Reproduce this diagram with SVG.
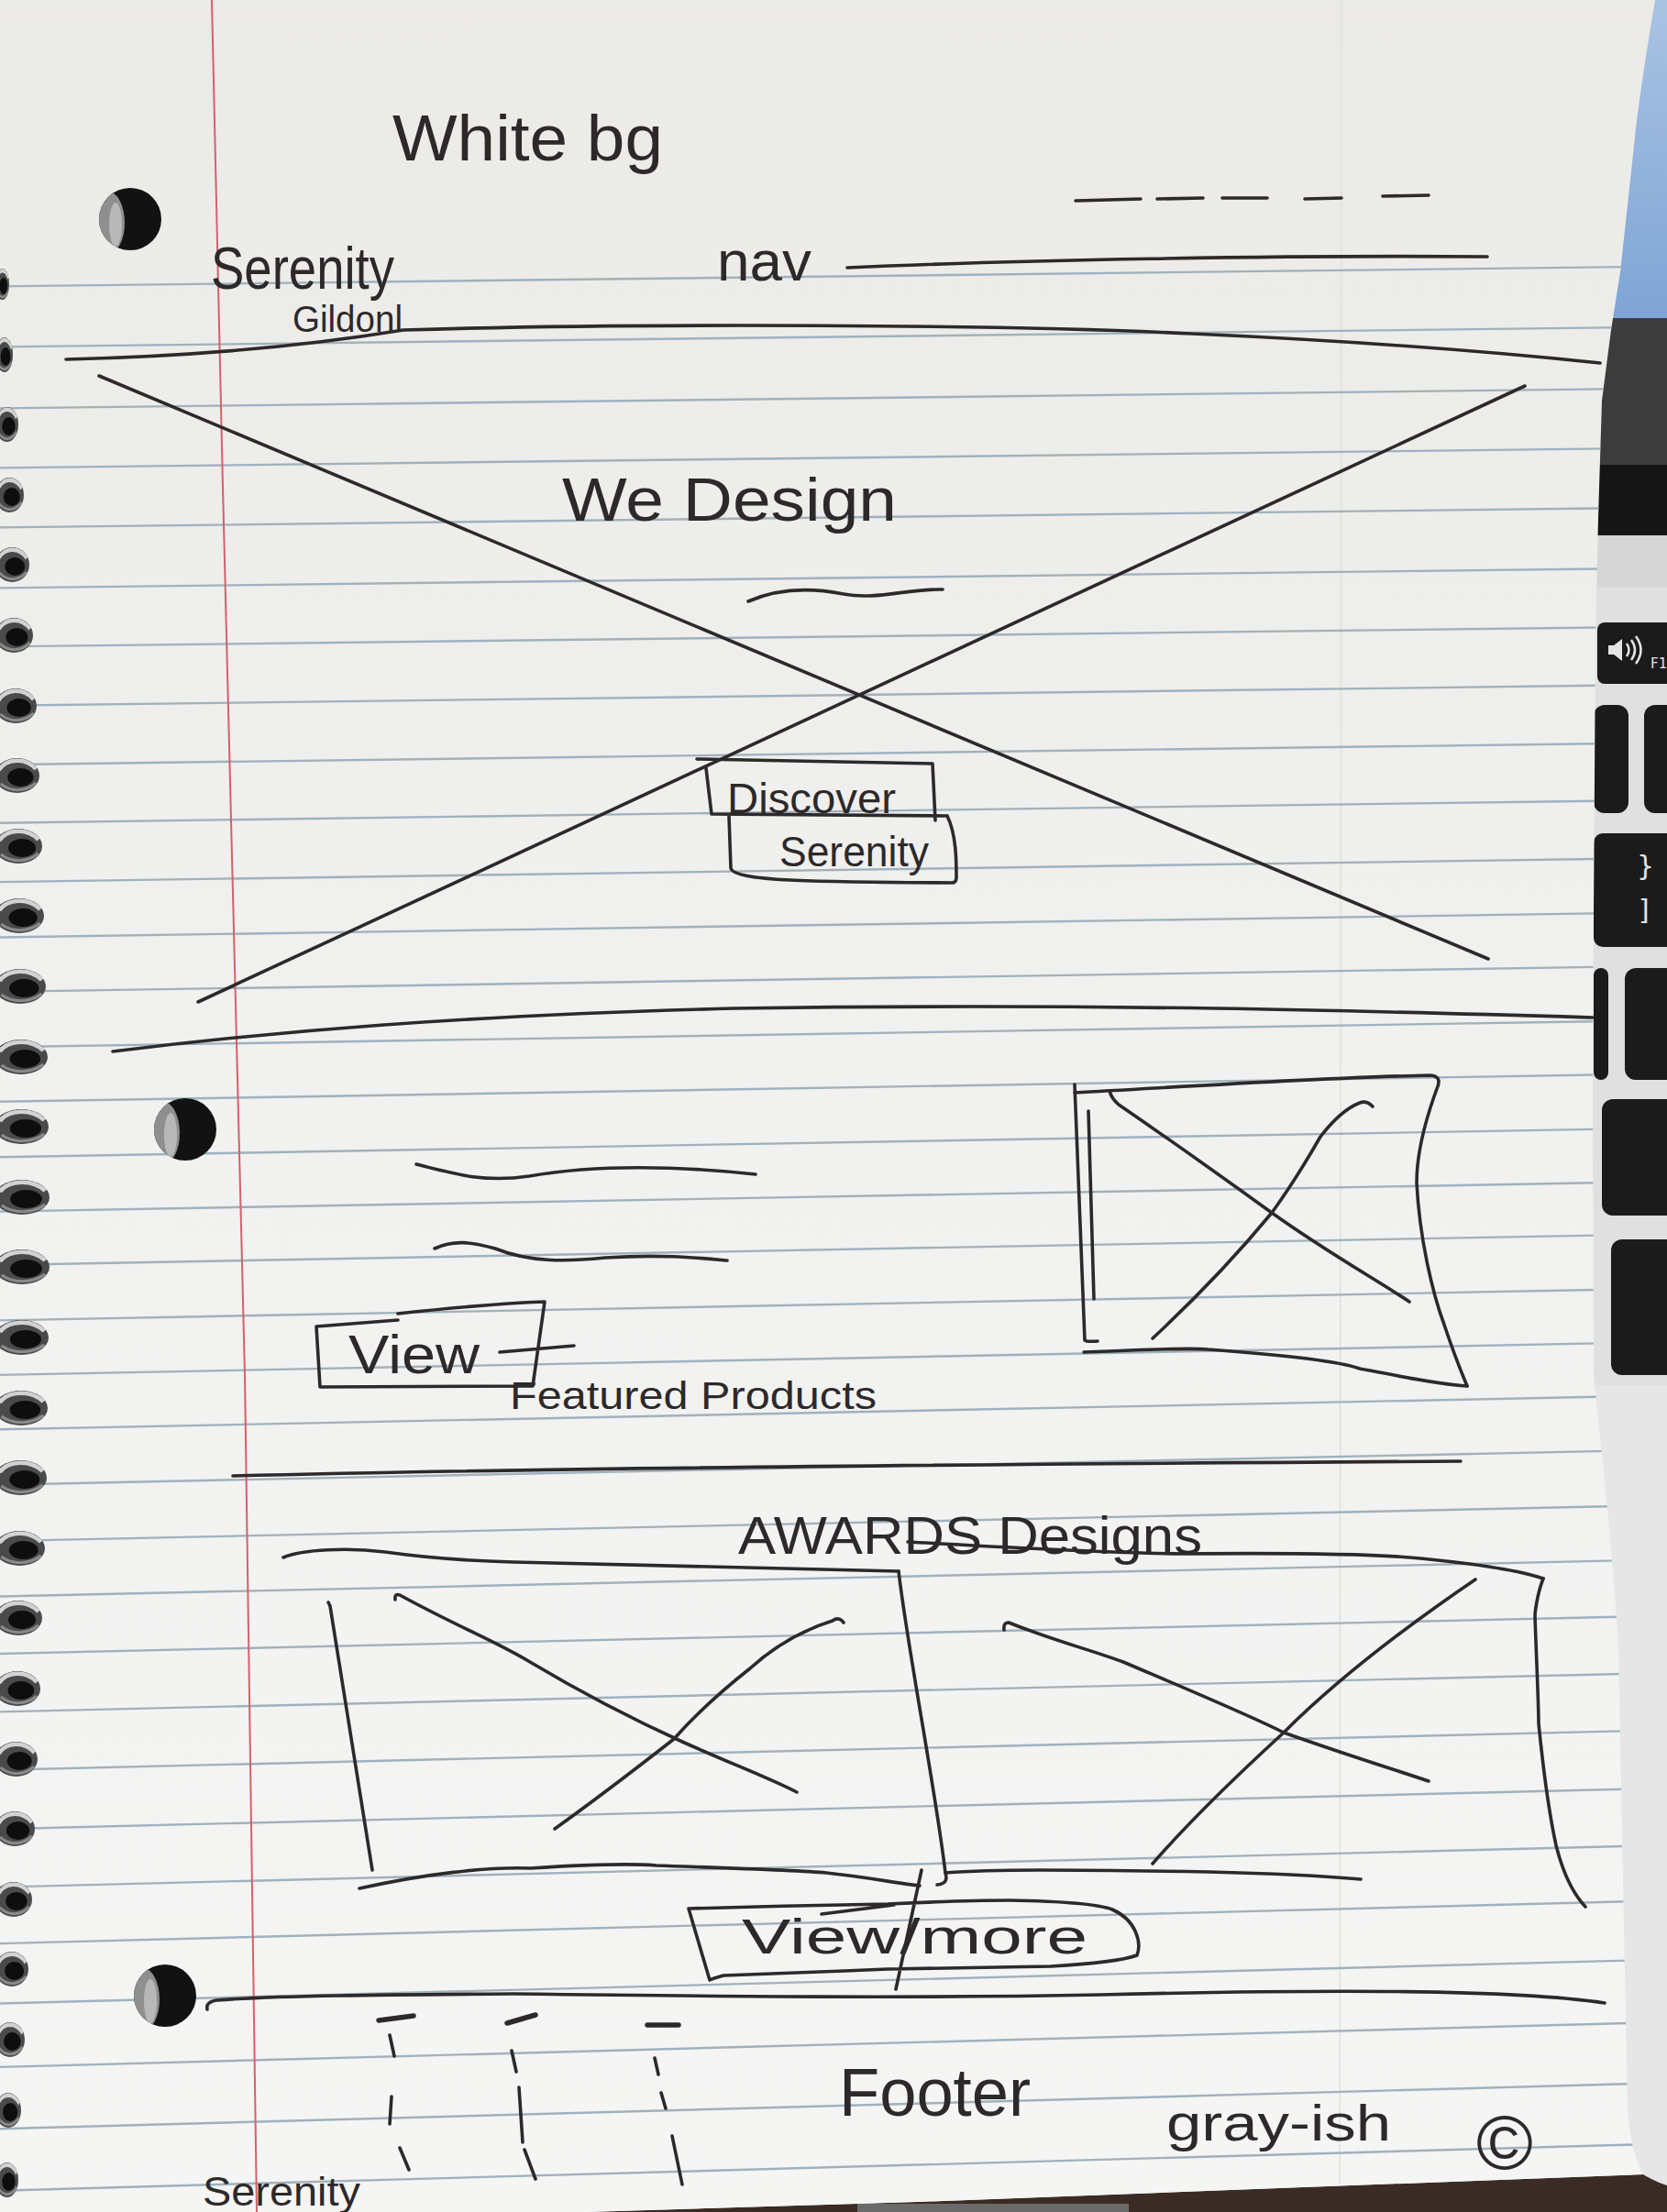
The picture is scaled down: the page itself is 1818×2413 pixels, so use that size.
<svg xmlns="http://www.w3.org/2000/svg" xmlns:xlink="http://www.w3.org/1999/xlink" width="1818" height="2413" viewBox="0 0 1818 2413">
  <style>
    .ink { fill: none; stroke: #2d292a; stroke-width: 3.6; stroke-linecap: round; stroke-linejoin: round; }
    .bold { stroke-width: 5.5; }
    .rule { stroke: #9fb1bd; stroke-width: 2.4; fill: none; }
    .hand { font-family: "Liberation Sans", Arial, sans-serif; fill: #2d292a; }
    .key { fill: #1b1b1b; }
    .legend { font-family: "DejaVu Sans", "Liberation Sans", sans-serif; fill: #e4e4e4; }
  </style>
  <defs>
    <linearGradient id="paperShade" x1="0" y1="0" x2="0" y2="1">
      <stop offset="0" stop-color="#ebeae7"/>
      <stop offset="0.5" stop-color="#f1f1ef"/>
      <stop offset="1" stop-color="#f5f5f4"/>
    </linearGradient>
    <linearGradient id="sky" x1="0" y1="0" x2="0" y2="1">
      <stop offset="0" stop-color="#a9c3e3"/>
      <stop offset="1" stop-color="#7fa5d5"/>
    </linearGradient>
    <clipPath id="paperClip">
      <path d="M0,0 L1805,0 C1795,60 1786,120 1783,150 L1767,297 L1757,360 L1747,437 L1743,565 L1740,700 L1737,1150 L1738,1500 C1748,1600 1760,1700 1765,1800 L1775,2300 C1778,2340 1785,2360 1792,2372 L1000,2402 L640,2413 L0,2413 Z"/>
    </clipPath>
    <clipPath id="holeClip">
      <circle cx="0" cy="0" r="34"/>
    </clipPath>
    <!-- punched binder hole -->
    <g id="hole">
      <circle cx="0" cy="0" r="34" fill="#121212"/>
      <g clip-path="url(#holeClip)">
        <ellipse cx="-24" cy="4" rx="18" ry="34" fill="#8f8f8f"/>
        <ellipse cx="-16" cy="6" rx="7" ry="24" fill="#d4d4d4" opacity="0.6"/>
      </g>
    </g>
    <!-- one loop of the spiral wire, unit width 50 -->
    <g id="coil">
      <ellipse cx="24" cy="0" rx="26" ry="19" fill="#4a4a4a"/>
      <ellipse cx="28" cy="2" rx="15" ry="10" fill="#0e0e0e"/>
      <path d="M3,-6 C12,-19 34,-20 46,-7" stroke="#d2d2d2" stroke-width="4.5" fill="none"/>
      <path d="M5,9 C16,18 34,18 46,8" stroke="#8a8a8a" stroke-width="3" fill="none"/>
    </g>
  </defs>

  <!-- laptop behind the notebook -->
  <g id="laptop">
    <rect x="0" y="0" width="1818" height="2413" fill="#e6e6e6"/>
    <rect x="1700" y="0" width="118" height="347" fill="url(#sky)"/>
    <rect x="1700" y="347" width="118" height="160" fill="#3c3c3c"/>
    <rect x="1700" y="507" width="118" height="77" fill="#151515"/>
    <rect x="1700" y="584" width="118" height="57" fill="#d6d6d6"/>
    <rect x="1700" y="641" width="118" height="870" fill="#e0e0e0"/>
    <rect class="key" x="1742" y="679" width="110" height="67" rx="8"/>
    <path d="M1754,704 h6 l9,-7 v24 l-9,-7 h-6 z" fill="#e4e4e4"/>
    <path d="M1774,702 q5,7 0,14 M1779,698 q8,11 0,22 M1784,694 q11,15 0,30" stroke="#e4e4e4" stroke-width="2.5" fill="none"/>
    <text class="legend" x="1800" y="729" font-size="15">F1</text>
    <rect class="key" x="1738" y="769" width="38" height="118" rx="12"/>
    <rect class="key" x="1793" y="769" width="60" height="118" rx="12"/>
    <rect class="key" x="1738" y="909" width="110" height="124" rx="10"/>
    <text class="legend" x="1785" y="955" font-size="30">}</text>
    <text class="legend" x="1787" y="1003" font-size="30">]</text>
    <rect class="key" x="1738" y="1056" width="16" height="122" rx="8"/>
    <rect class="key" x="1772" y="1056" width="80" height="122" rx="12"/>
    <rect class="key" x="1747" y="1199" width="100" height="127" rx="12"/>
    <rect class="key" x="1757" y="1352" width="90" height="148" rx="12"/>
    <path d="M640,2413 L1000,2402 L1792,2372 C1805,2380 1818,2384 1818,2384 L1818,2413 Z" fill="#3a2c24"/>
    <rect x="935" y="2404" width="296" height="9" fill="#6a6a6a"/>
  </g>

  <!-- the notebook page -->
  <g id="page">
    <path d="M0,0 L1805,0 C1795,60 1786,120 1783,150 L1767,297 L1757,360 L1747,437 L1743,565 L1740,700 L1737,1150 L1738,1500 C1748,1600 1760,1700 1765,1800 L1775,2300 C1778,2340 1785,2360 1792,2372 L1000,2402 L640,2413 L0,2413 Z" fill="url(#paperShade)"/>
    <g clip-path="url(#paperClip)">
      <path d="M1463,0 L1461,2410" stroke="#dcdcd9" stroke-width="2" opacity="0.6"/>
      <g id="rules" class="rule">
        <path d="M0,312.4 L1818,290.6"/>
        <path d="M0,378.4 L1818,356.6"/>
        <path d="M0,445.4 L1818,423.6"/>
        <path d="M0,510.4 L1818,488.6"/>
        <path d="M0,575.4 L1818,553.6"/>
        <path d="M0,641.4 L1818,619.6"/>
        <path d="M0,705.4 L1818,683.6"/>
        <path d="M0,769.8 L1818,746.9"/>
        <path d="M0,834.2 L1818,810.2"/>
        <path d="M0,897.7 L1818,872.6"/>
        <path d="M0,962.1 L1818,935.9"/>
        <path d="M0,1022.5 L1818,995.2"/>
        <path d="M0,1081.9 L1818,1053.6"/>
        <path d="M0,1142.3 L1818,1112.9"/>
        <path d="M0,1201.8 L1818,1171.2"/>
        <path d="M0,1262.2 L1818,1230.5"/>
        <path d="M0,1321.6 L1818,1288.9"/>
        <path d="M0,1380 L1818,1346.2"/>
        <path d="M0,1440.4 L1818,1405.5"/>
        <path d="M0,1499.9 L1818,1463.9"/>
        <path d="M0,1559.3 L1818,1522.2"/>
        <path d="M0,1619.7 L1818,1581.5"/>
        <path d="M0,1681.1 L1818,1641.9"/>
        <path d="M0,1741.5 L1818,1701.2"/>
        <path d="M0,1804 L1818,1762.5"/>
        <path d="M0,1867.4 L1818,1824.8"/>
        <path d="M0,1930.8 L1818,1887.2"/>
        <path d="M0,1995.2 L1818,1950.5"/>
        <path d="M0,2058.6 L1818,2012.8"/>
        <path d="M0,2120.1 L1818,2073.2"/>
        <path d="M0,2185.5 L1818,2137.5"/>
        <path d="M0,2254.9 L1818,2205.8"/>
        <path d="M0,2322.3 L1818,2272.1"/>
        <path d="M0,2389.7 L1818,2338.5"/>
      </g>
      <path id="margin" d="M231,0 C240,500 260,1100 267,1500 C272,1850 277,2150 280,2413" stroke="#d4606e" stroke-width="2" fill="none"/>
    </g>
    <use href="#hole" x="142" y="239"/>
    <use href="#hole" x="202" y="1232"/>
    <use href="#hole" x="180" y="2177"/>
  </g>

  <!-- spiral binding -->
  <g id="spiral">
    <use href="#coil" transform="translate(-4,310) scale(0.28,0.9)"/>
    <use href="#coil" transform="translate(-4,387) scale(0.36,1)"/>
    <use href="#coil" transform="translate(-4,463) scale(0.48,1)"/>
    <use href="#coil" transform="translate(-4,540) scale(0.6,1)"/>
    <use href="#coil" transform="translate(-4,616) scale(0.72,1)"/>
    <use href="#coil" transform="translate(-4,693) scale(0.8,1)"/>
    <use href="#coil" transform="translate(-4,770) scale(0.88,1)"/>
    <use href="#coil" transform="translate(-4,846) scale(0.94,1)"/>
    <use href="#coil" transform="translate(-4,923) scale(1,1)"/>
    <use href="#coil" transform="translate(-4,999) scale(1.04,1)"/>
    <use href="#coil" transform="translate(-4,1076) scale(1.08,1)"/>
    <use href="#coil" transform="translate(-4,1153) scale(1.12,1)"/>
    <use href="#coil" transform="translate(-4,1229) scale(1.14,1)"/>
    <use href="#coil" transform="translate(-4,1306) scale(1.16,1)"/>
    <use href="#coil" transform="translate(-4,1382) scale(1.16,1)"/>
    <use href="#coil" transform="translate(-4,1459) scale(1.14,1)"/>
    <use href="#coil" transform="translate(-4,1536) scale(1.12,1)"/>
    <use href="#coil" transform="translate(-4,1612) scale(1.1,1)"/>
    <use href="#coil" transform="translate(-4,1689) scale(1.06,1)"/>
    <use href="#coil" transform="translate(-4,1765) scale(1,1)"/>
    <use href="#coil" transform="translate(-4,1842) scale(0.96,1)"/>
    <use href="#coil" transform="translate(-4,1919) scale(0.9,1)"/>
    <use href="#coil" transform="translate(-4,1995) scale(0.84,1)"/>
    <use href="#coil" transform="translate(-4,2072) scale(0.78,1)"/>
    <use href="#coil" transform="translate(-4,2148) scale(0.7,1)"/>
    <use href="#coil" transform="translate(-4,2225) scale(0.62,1)"/>
    <use href="#coil" transform="translate(-4,2302) scale(0.54,1)"/>
    <use href="#coil" transform="translate(-4,2378) scale(0.48,1)"/>
  </g>

  <!-- header sketch -->
  <g id="header">
    <text class="hand" x="428" y="175" font-size="70" textLength="295" lengthAdjust="spacingAndGlyphs">White bg</text>
    <text class="hand" x="230" y="315" font-size="64" textLength="200" lengthAdjust="spacingAndGlyphs">Serenity</text>
    <text class="hand" x="319" y="362" font-size="40" textLength="120" lengthAdjust="spacingAndGlyphs">Gildonl</text>
    <text class="hand" x="782" y="306" font-size="62" textLength="103" lengthAdjust="spacingAndGlyphs">nav</text>
    <path class="ink" d="M1173,219 L1244,217 M1262,217 L1312,216 M1333,216 L1382,216 M1423,217 L1463,216 M1508,214 L1558,213"/>
    <path class="ink" d="M924,292 C1100,284 1400,278 1622,280"/>
    <path class="ink" d="M72,392 C200,389 330,378 440,360 C700,352 1100,354 1300,364 C1500,373 1650,386 1745,396"/>
  </g>

  <!-- hero block -->
  <g id="hero">
    <path class="ink" d="M108,410 L1623,1046"/>
    <path class="ink" d="M1663,421 L216,1093"/>
    <text class="hand" x="613" y="568" font-size="66" textLength="365" lengthAdjust="spacingAndGlyphs">We Design</text>
    <path class="ink" d="M816,656 C850,641 885,641 920,648 C955,655 990,642 1028,643"/>
    <g id="discover-button">
      <path class="ink" d="M760,828 L1017,833 L1020,895 M770,838 L776,888 L1033,890 M795,890 L797,947 C800,962 900,962 1040,963 M1033,890 C1043,910 1043,940 1043,957 C1043,963 1040,963 1035,963"/>
      <text class="hand" x="793" y="887" font-size="46" textLength="184" lengthAdjust="spacingAndGlyphs">Discover</text>
      <text class="hand" x="850" y="945" font-size="46" textLength="163" lengthAdjust="spacingAndGlyphs">Serenity</text>
    </g>
    <path class="ink" d="M123,1147 C300,1125 500,1108 800,1100 C1200,1094 1500,1103 1737,1110"/>
  </g>

  <!-- featured products block -->
  <g id="featured">
    <path class="ink" d="M454,1270 C500,1282 530,1290 577,1283 C640,1272 720,1270 824,1281"/>
    <path class="ink" d="M474,1362 C495,1352 515,1355 540,1362 C580,1378 620,1376 660,1372 C720,1368 760,1372 793,1375"/>
    <g id="view-button">
      <path class="ink" d="M345,1447 L434,1440 M434,1433 C480,1428 540,1422 594,1420 L581,1512 L349,1513 L345,1447 M545,1475 L626,1468"/>
      <text class="hand" x="380" y="1498" font-size="60" textLength="143" lengthAdjust="spacingAndGlyphs">View</text>
    </g>
    <text class="hand" x="556" y="1537" font-size="42" textLength="400" lengthAdjust="spacingAndGlyphs">Featured Products</text>
    <g id="product-image">
      <path class="ink" d="M1172,1183 L1183,1462 Q1185,1464 1197,1463 M1187,1212 L1193,1417"/>
      <path class="ink" d="M1172,1192 C1300,1185 1450,1175 1560,1173 Q1572,1174 1568,1185 C1555,1220 1545,1260 1545,1290 C1548,1350 1562,1410 1575,1445 C1585,1475 1595,1500 1600,1512"/>
      <path class="ink" d="M1182,1475 C1250,1472 1300,1470 1317,1472 C1400,1478 1460,1485 1483,1493 C1530,1502 1570,1510 1600,1512"/>
      <path class="ink" d="M1210,1190 Q1212,1198 1220,1205 C1300,1260 1387,1323 1387,1323 C1450,1368 1500,1395 1537,1420"/>
      <path class="ink" d="M1497,1207 Q1490,1200 1483,1203 C1465,1210 1450,1227 1440,1240 C1420,1275 1400,1305 1387,1323 C1340,1380 1300,1420 1257,1460"/>
    </g>
    <path class="ink" d="M254,1610 C600,1601 1100,1597 1593,1594"/>
  </g>

  <!-- awards block -->
  <g id="awards">
    <text class="hand" x="805" y="1695" font-size="58" textLength="506" lengthAdjust="spacingAndGlyphs">AWARDS Designs</text>
    <path class="ink" d="M309,1699 C330,1690 380,1688 420,1693 C470,1700 520,1703 560,1704 C750,1708 900,1711 980,1714"/>
    <path class="ink" d="M990,1682 C1100,1688 1200,1694 1290,1695 C1400,1694 1500,1695 1549,1700 C1610,1706 1660,1714 1683,1722"/>
    <path class="ink" d="M980,1714 C990,1800 1020,1950 1031,2043 Q1035,2055 1022,2056"/>
    <path class="ink" d="M358,1748 L360,1752 L406,2040"/>
    <path class="ink" d="M431,1745 Q430,1738 436,1740 C500,1775 540,1790 578,1813 C640,1850 700,1880 744,1900 C800,1925 840,1940 869,1955"/>
    <path class="ink" d="M920,1770 Q915,1763 908,1768 C870,1780 840,1800 818,1820 C780,1850 750,1880 735,1897 C680,1940 640,1970 605,1995"/>
    <path class="ink" d="M392,2060 C460,2045 530,2036 578,2038 C640,2034 690,2033 716,2035 C800,2038 870,2040 901,2043 C950,2048 980,2055 1003,2057"/>
    <path class="ink" d="M1031,2043 C1070,2040 1100,2040 1133,2040 C1200,2040 1260,2041 1318,2042 C1400,2044 1450,2047 1484,2050"/>
    <path class="ink" d="M1095,1778 Q1094,1770 1100,1770 C1150,1790 1190,1800 1225,1813 C1300,1845 1360,1870 1400,1890 C1470,1915 1520,1930 1558,1943"/>
    <path class="ink" d="M1609,1723 C1540,1770 1460,1830 1400,1890 C1340,1945 1290,1995 1257,2033"/>
    <path class="ink" d="M1683,1722 C1676,1740 1674,1760 1674,1763 C1676,1820 1678,1860 1678,1880 C1685,1950 1692,1990 1697,2013 C1705,2045 1715,2065 1729,2080"/>
    <g id="view-more-button">
      <path class="ink" d="M751,2082 C820,2080 900,2078 968,2077 C1030,2074 1080,2073 1101,2073 C1160,2074 1200,2078 1213,2083 C1240,2095 1245,2120 1240,2133 C1220,2140 1180,2143 1146,2145 C1080,2146 1020,2147 968,2148 C900,2151 820,2154 789,2155 Q778,2158 774,2160 L751,2082 M896,2088 L975,2078 M1005,2040 L977,2170"/>
      <text class="hand" x="809" y="2131" font-size="54" textLength="377" lengthAdjust="spacingAndGlyphs">View/more</text>
    </g>
  </g>

  <!-- footer block -->
  <g id="footer">
    <path class="ink" d="M226,2192 Q224,2184 236,2182 C300,2177 420,2176 560,2175 C800,2178 1000,2180 1200,2176 C1450,2170 1650,2170 1750,2185"/>
    <path class="ink bold" d="M413,2204 L451,2199 M553,2207 L584,2198 M706,2209 L740,2209"/>
    <path class="ink" d="M425,2220 L430,2243 M427,2287 L425,2317 M436,2343 L446,2367"/>
    <path class="ink" d="M558,2237 L563,2260 M566,2277 L570,2337 M572,2345 L584,2377"/>
    <path class="ink" d="M714,2245 L718,2263 M721,2283 L726,2300 M733,2330 L744,2383"/>
    <text class="hand" x="915" y="2308" font-size="74" textLength="209" lengthAdjust="spacingAndGlyphs">Footer</text>
    <text class="hand" x="1272" y="2335" font-size="56" textLength="245" lengthAdjust="spacingAndGlyphs">gray-ish</text>
    <text class="hand" x="1610" y="2366" font-size="84">©</text>
    <text class="hand" x="221" y="2406" font-size="44" textLength="172" lengthAdjust="spacingAndGlyphs">Serenity</text>
  </g>
</svg>
